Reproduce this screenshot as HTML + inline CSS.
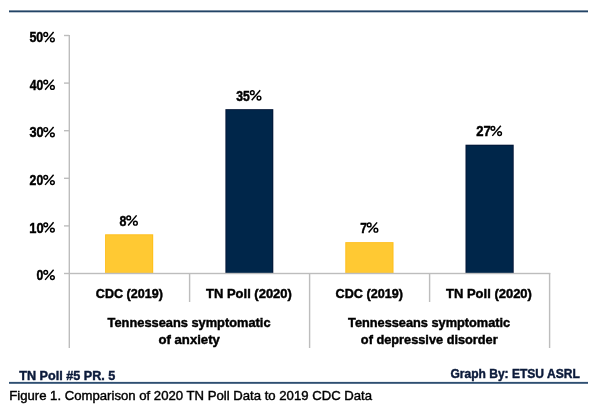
<!DOCTYPE html>
<html><head><meta charset="utf-8">
<style>
html,body{margin:0;padding:0;background:#fff;width:600px;height:409px;overflow:hidden}
svg{display:block;will-change:transform}
text{font-family:"Liberation Sans",sans-serif}
</style></head><body>
<svg width="600" height="409" viewBox="0 0 600 409">
<rect x="0" y="0" width="600" height="409" fill="#fff"/>
<rect x="9" y="10.4" width="579" height="1.9" fill="#234466"/>
<rect x="105.1" y="234.3" width="48.1" height="39.20" fill="#ffbd14"/><rect x="106.00" y="235.20" width="46.30" height="38.30" fill="#ffc933"/>
<rect x="225.4" y="109.15" width="47.9" height="164.35" fill="#001334"/><rect x="226.30" y="110.05" width="46.10" height="163.45" fill="#00264a"/>
<rect x="345.3" y="242.15" width="48.2" height="31.35" fill="#ffbd14"/><rect x="346.20" y="243.05" width="46.40" height="30.45" fill="#ffc933"/>
<rect x="465.5" y="144.7" width="48.2" height="128.80" fill="#001334"/><rect x="466.40" y="145.60" width="46.40" height="127.90" fill="#00264a"/>
<g fill="#bdbdbd">
<rect x="68.6" y="35" width="1.4" height="313"/>
<rect x="64" y="272.8" width="486.3" height="1.4"/>
<rect x="64" y="34.8" width="5" height="1.4"/>
<rect x="64" y="82.4" width="5" height="1.4"/>
<rect x="64" y="130.0" width="5" height="1.4"/>
<rect x="64" y="177.6" width="5" height="1.4"/>
<rect x="64" y="225.2" width="5" height="1.4"/>
<rect x="188.9" y="273" width="1.4" height="29"/>
<rect x="308.9" y="273" width="1.4" height="75"/>
<rect x="428.9" y="273" width="1.4" height="29"/>
<rect x="548.9" y="273" width="1.4" height="75"/>
</g>
<text x="29.45" y="42.3" font-size="14.5" font-weight="bold" fill="#000" stroke="#000" stroke-width="0.45" textLength="13.83" lengthAdjust="spacingAndGlyphs">50</text>
<g fill="none" stroke="#000" stroke-width="1.45"><ellipse cx="45.70" cy="34.50" rx="1.85" ry="1.9"/><ellipse cx="52.40" cy="39.80" rx="1.85" ry="1.9"/><line x1="53.60" y1="32.00" x2="45.10" y2="42.10"/></g>
<text x="29.72" y="89.9" font-size="14.5" font-weight="bold" fill="#000" stroke="#000" stroke-width="0.45" textLength="13.53" lengthAdjust="spacingAndGlyphs">40</text>
<g fill="none" stroke="#000" stroke-width="1.45"><ellipse cx="45.70" cy="82.10" rx="1.85" ry="1.9"/><ellipse cx="52.40" cy="87.40" rx="1.85" ry="1.9"/><line x1="53.60" y1="79.60" x2="45.10" y2="89.70"/></g>
<text x="29.51" y="137.3" font-size="14.5" font-weight="bold" fill="#000" stroke="#000" stroke-width="0.45" textLength="14.17" lengthAdjust="spacingAndGlyphs">30</text>
<g fill="none" stroke="#000" stroke-width="1.45"><ellipse cx="45.70" cy="129.50" rx="1.85" ry="1.9"/><ellipse cx="52.40" cy="134.80" rx="1.85" ry="1.9"/><line x1="53.60" y1="127.00" x2="45.10" y2="137.10"/></g>
<text x="29.62" y="185.1" font-size="14.5" font-weight="bold" fill="#000" stroke="#000" stroke-width="0.45" textLength="13.54" lengthAdjust="spacingAndGlyphs">20</text>
<g fill="none" stroke="#000" stroke-width="1.45"><ellipse cx="45.70" cy="177.30" rx="1.85" ry="1.9"/><ellipse cx="52.40" cy="182.60" rx="1.85" ry="1.9"/><line x1="53.60" y1="174.80" x2="45.10" y2="184.90"/></g>
<text x="29.28" y="232.6" font-size="14.5" font-weight="bold" fill="#000" stroke="#000" stroke-width="0.45" textLength="14.33" lengthAdjust="spacingAndGlyphs">10</text>
<g fill="none" stroke="#000" stroke-width="1.45"><ellipse cx="45.70" cy="224.80" rx="1.85" ry="1.9"/><ellipse cx="52.40" cy="230.10" rx="1.85" ry="1.9"/><line x1="53.60" y1="222.30" x2="45.10" y2="232.40"/></g>
<text x="36.61" y="280.1" font-size="14.5" font-weight="bold" fill="#000" stroke="#000" stroke-width="0.45" textLength="6.80" lengthAdjust="spacingAndGlyphs">0</text>
<g fill="none" stroke="#000" stroke-width="1.45"><ellipse cx="45.70" cy="272.30" rx="1.85" ry="1.9"/><ellipse cx="52.40" cy="277.60" rx="1.85" ry="1.9"/><line x1="53.60" y1="269.80" x2="45.10" y2="279.90"/></g>
<text x="119.61" y="225.7" font-size="14.5" font-weight="bold" fill="#000" stroke="#000" stroke-width="0.45" textLength="6.90" lengthAdjust="spacingAndGlyphs">8</text>
<g fill="none" stroke="#000" stroke-width="1.45"><ellipse cx="128.70" cy="217.90" rx="1.85" ry="1.9"/><ellipse cx="135.40" cy="223.20" rx="1.85" ry="1.9"/><line x1="136.60" y1="215.40" x2="128.10" y2="225.50"/></g>
<text x="236.22" y="100.5" font-size="14.5" font-weight="bold" fill="#000" stroke="#000" stroke-width="0.45" textLength="13.60" lengthAdjust="spacingAndGlyphs">35</text>
<g fill="none" stroke="#000" stroke-width="1.45"><ellipse cx="252.30" cy="92.70" rx="1.85" ry="1.9"/><ellipse cx="259.00" cy="98.00" rx="1.85" ry="1.9"/><line x1="260.20" y1="90.20" x2="251.70" y2="100.30"/></g>
<text x="360.23" y="232.7" font-size="14.5" font-weight="bold" fill="#000" stroke="#000" stroke-width="0.45" textLength="6.69" lengthAdjust="spacingAndGlyphs">7</text>
<g fill="none" stroke="#000" stroke-width="1.45"><ellipse cx="369.20" cy="224.90" rx="1.85" ry="1.9"/><ellipse cx="375.90" cy="230.20" rx="1.85" ry="1.9"/><line x1="377.10" y1="222.40" x2="368.60" y2="232.50"/></g>
<text x="476.23" y="136.1" font-size="14.5" font-weight="bold" fill="#000" stroke="#000" stroke-width="0.45" textLength="14.56" lengthAdjust="spacingAndGlyphs">27</text>
<g fill="none" stroke="#000" stroke-width="1.45"><ellipse cx="492.90" cy="128.30" rx="1.85" ry="1.9"/><ellipse cx="499.60" cy="133.60" rx="1.85" ry="1.9"/><line x1="500.80" y1="125.80" x2="492.30" y2="135.90"/></g>
<text x="95.85" y="298.0" font-size="13.4" font-weight="bold" fill="#000" stroke="#000" stroke-width="0.45" textLength="67.00" lengthAdjust="spacingAndGlyphs">CDC (2019)</text>
<text x="206.09" y="298.0" font-size="13.4" font-weight="bold" fill="#000" stroke="#000" stroke-width="0.45" textLength="85.77" lengthAdjust="spacingAndGlyphs">TN Poll (2020)</text>
<text x="335.61" y="298.0" font-size="13.4" font-weight="bold" fill="#000" stroke="#000" stroke-width="0.45" textLength="67.31" lengthAdjust="spacingAndGlyphs">CDC (2019)</text>
<text x="446.05" y="298.0" font-size="13.4" font-weight="bold" fill="#000" stroke="#000" stroke-width="0.45" textLength="85.88" lengthAdjust="spacingAndGlyphs">TN Poll (2020)</text>
<text x="107.61" y="326.7" font-size="13.4" font-weight="bold" fill="#000" stroke="#000" stroke-width="0.45" textLength="162.91" lengthAdjust="spacingAndGlyphs">Tennesseans symptomatic</text>
<text x="158.49" y="344.2" font-size="13.4" font-weight="bold" fill="#000" stroke="#000" stroke-width="0.45" textLength="61.37" lengthAdjust="spacingAndGlyphs">of anxiety</text>
<text x="348.04" y="326.6" font-size="13.4" font-weight="bold" fill="#000" stroke="#000" stroke-width="0.45" textLength="162.14" lengthAdjust="spacingAndGlyphs">Tennesseans symptomatic</text>
<text x="360.85" y="344.0" font-size="13.4" font-weight="bold" fill="#000" stroke="#000" stroke-width="0.45" textLength="136.84" lengthAdjust="spacingAndGlyphs">of depressive disorder</text>
<text x="19.24" y="380.0" font-size="13.4" font-weight="bold" fill="#0b1a3a" stroke="#0b1a3a" stroke-width="0.45" textLength="96.09" lengthAdjust="spacingAndGlyphs">TN Poll #5 PR. 5</text>
<text x="450.42" y="378.0" font-size="13.4" font-weight="bold" fill="#0b1a3a" stroke="#0b1a3a" stroke-width="0.45" textLength="129.34" lengthAdjust="spacingAndGlyphs">Graph By: ETSU ASRL</text>
<text x="9.21" y="400.0" font-size="12.4" fill="#000" stroke="#000" stroke-width="0.4" textLength="362.88" lengthAdjust="spacingAndGlyphs">Figure 1. Comparison of 2020 TN Poll Data to 2019 CDC Data</text>
<rect x="9" y="381.9" width="579" height="1.9" fill="#2f4f72"/>
</svg>
</body></html>
